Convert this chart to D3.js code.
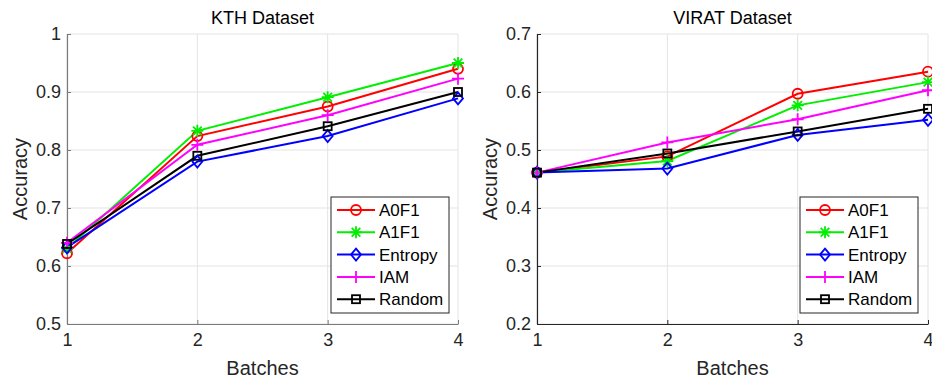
<!DOCTYPE html>
<html><head><meta charset="utf-8">
<script src="https://cdn.jsdelivr.net/npm/d3@7"></script>
<style>body{margin:0;background:#fff}svg{display:block;font-family:"Liberation Sans",Arial,Helvetica,sans-serif}</style>
</head><body>
<script>
const batches = [1, 2, 3, 4];
const seriesNames = ["A0F1", "A1F1", "Entropy", "IAM", "Random"];
const seriesColors = ["#ff0000", "#00ee00", "#0000ff", "#ff00ff", "#000000"];
const seriesMarkers = ["circle", "star", "diamond", "plus", "square"];
const kthA0F1 = [0.622, 0.824, 0.875, 0.940];
const kthA1F1 = [0.630, 0.833, 0.891, 0.950];
const kthEntropy = [0.632, 0.780, 0.824, 0.889];
const kthIAM = [0.640, 0.809, 0.860, 0.923];
const kthRandom = [0.638, 0.790, 0.841, 0.900];
const viratA0F1 = [0.461, 0.489, 0.597, 0.635];
const viratA1F1 = [0.461, 0.481, 0.577, 0.617];
const viratEntropy = [0.461, 0.468, 0.526, 0.552];
const viratIAM = [0.461, 0.513, 0.553, 0.603];
const viratRandom = [0.461, 0.494, 0.532, 0.571];
const kthYTicks = [0.5, 0.6, 0.7, 0.8, 0.9, 1];
const viratYTicks = [0.2, 0.3, 0.4, 0.5, 0.6, 0.7];
const xTicks = [1, 2, 3, 4];

const svg = d3.select("body").append("svg").attr("width", 932).attr("height", 382);

function marker(g, type, x, y, color) {
  const sw = 1.8;
  if (type === "circle") {
    g.append("circle").attr("cx", x).attr("cy", y).attr("r", 5).attr("fill", "none").attr("stroke", color).attr("stroke-width", sw);
  } else if (type === "square") {
    g.append("rect").attr("x", x - 4).attr("y", y - 4).attr("width", 8).attr("height", 8).attr("fill", "none").attr("stroke", color).attr("stroke-width", sw);
  } else if (type === "diamond") {
    g.append("path").attr("d", `M${x},${y-6}L${x+5},${y}L${x},${y+6}L${x-5},${y}Z`).attr("fill", "none").attr("stroke", color).attr("stroke-width", sw);
  } else if (type === "plus") {
    g.append("path").attr("d", `M${x-6},${y}H${x+6}M${x},${y-6}V${y+6}`).attr("stroke", color).attr("stroke-width", sw);
  } else if (type === "star") {
    const r = 6, d = r * 0.72;
    g.append("path").attr("d", `M${x-r},${y}H${x+r}M${x},${y-r}V${y+r}M${x-d},${y-d}L${x+d},${y+d}M${x-d},${y+d}L${x+d},${y-d}`).attr("stroke", color).attr("stroke-width", sw);
  }
}

function panel(opts) {
  const { left, right, top, bottom, yDomain, yTicks, data, title, axisColor, legendX } = opts;
  const x = d3.scaleLinear().domain([1, 4]).range([left, right]);
  const y = d3.scaleLinear().domain(yDomain).range([bottom, top]);
  const g = svg.append("g");
  g.selectAll(".gx").data(xTicks).enter().append("line")
    .attr("x1", d => x(d)).attr("x2", d => x(d)).attr("y1", top).attr("y2", bottom)
    .attr("stroke", "#e3e3e3").attr("stroke-width", 1);
  g.selectAll(".gy").data(yTicks).enter().append("line")
    .attr("x1", left).attr("x2", right).attr("y1", d => y(d)).attr("y2", d => y(d))
    .attr("stroke", "#e3e3e3").attr("stroke-width", 1);
  const ax = d3.axisBottom(x).tickValues(xTicks).tickFormat(d3.format("d")).tickSizeInner(-4).tickSizeOuter(0).tickPadding(9);
  const ag = g.append("g").attr("transform", `translate(0,${bottom})`).call(ax);
  ag.select(".domain").attr("stroke", axisColor).attr("stroke-width", 1.2);
  ag.selectAll(".tick line").attr("stroke", axisColor);
  ag.selectAll("text").attr("font-size", 18).attr("fill", "#262626").attr("font-family", "Liberation Sans, Arial, sans-serif");
  const ay = d3.axisLeft(y).tickValues(yTicks).tickFormat(d => d3.format("")(+d.toFixed(1))).tickSizeInner(-4).tickSizeOuter(0).tickPadding(6);
  const ayg = g.append("g").attr("transform", `translate(${left},0)`).call(ay);
  ayg.select(".domain").attr("stroke", axisColor).attr("stroke-width", 1.2);
  ayg.selectAll(".tick line").attr("stroke", axisColor);
  ayg.selectAll("text").attr("font-size", 18).attr("fill", "#262626").attr("font-family", "Liberation Sans, Arial, sans-serif");
  const cx = (left + right) / 2;
  g.append("text").attr("x", cx).attr("y", 24).attr("text-anchor", "middle").attr("font-size", 18).attr("fill", "#000").text(title);
  g.append("text").attr("x", cx).attr("y", 375).attr("text-anchor", "middle").attr("font-size", 20).attr("fill", "#262626").text("Batches");
  g.append("text").attr("transform", `translate(${left - 40},${(top + bottom) / 2}) rotate(-90)`).attr("text-anchor", "middle").attr("font-size", 20).attr("fill", "#262626").text("Accuracy");
  const line = d3.line().x((d, i) => x(batches[i])).y(d => y(d));
  data.forEach((vals, si) => {
    g.append("path").datum(vals).attr("d", line).attr("fill", "none").attr("stroke", seriesColors[si]).attr("stroke-width", 2);
  });
  data.forEach((vals, si) => {
    vals.forEach((v, i) => marker(g, seriesMarkers[si], x(batches[i]), y(v), seriesColors[si]));
  });
  const lg = g.append("g");
  const lx = legendX, ly = 197, lw = 118, lh = 116;
  lg.append("rect").attr("x", lx).attr("y", ly).attr("width", lw).attr("height", lh).attr("fill", "#fff").attr("stroke", "#262626").attr("stroke-width", 1);
  seriesNames.forEach((n, i) => {
    const yy = ly + 13 + i * 22.3;
    lg.append("line").attr("x1", lx + 6).attr("x2", lx + 44).attr("y1", yy).attr("y2", yy).attr("stroke", seriesColors[i]).attr("stroke-width", 2);
    marker(lg, seriesMarkers[i], lx + 25, yy, seriesColors[i]);
    lg.append("text").attr("x", lx + 48).attr("y", yy + 6).attr("font-size", 17).attr("fill", "#000").text(n);
  });
}

panel({ left: 67, right: 458, top: 34, bottom: 324, yDomain: [0.5, 1], yTicks: kthYTicks,
  data: [kthA0F1, kthA1F1, kthEntropy, kthIAM, kthRandom], title: "KTH Dataset", axisColor: "#7a7a7a", legendX: 331 });
panel({ left: 537, right: 928, top: 34, bottom: 324, yDomain: [0.2, 0.7], yTicks: viratYTicks,
  data: [viratA0F1, viratA1F1, viratEntropy, viratIAM, viratRandom], title: "VIRAT Dataset", axisColor: "#262626", legendX: 800 });
</script>
</body></html>
